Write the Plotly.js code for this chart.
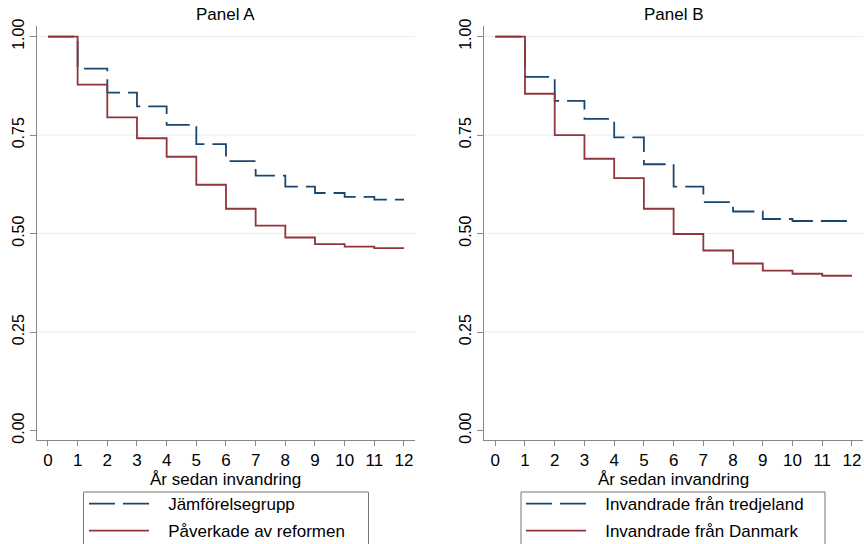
<!DOCTYPE html>
<html>
<head>
<meta charset="utf-8">
<script src="https://cdn.plot.ly/plotly-3.0.1.min.js"></script>
<style>html,body{margin:0;padding:0;background:#fff;}#chart{width:864px;height:544px;}</style>
</head>
<body>
<div id="chart"></div>
<script>
// Data
const years = [0,1,2,3,4,5,6,7,8,9,10,11,12];
const panelA_jamfor = [1.000,0.919,0.858,0.823,0.776,0.727,0.684,0.647,0.619,0.603,0.593,0.586,0.586];
const panelA_paverkade = [1.000,0.878,0.795,0.742,0.695,0.624,0.563,0.520,0.490,0.473,0.467,0.463,0.463];
const panelB_tredje = [1.000,0.898,0.837,0.791,0.744,0.676,0.619,0.580,0.556,0.537,0.532,0.532,0.532];
const panelB_danmark = [1.000,0.855,0.750,0.690,0.641,0.563,0.499,0.457,0.424,0.406,0.398,0.393,0.393];
const yTicks = [0,0.25,0.5,0.75,1];
const yTickText = ['0.00','0.25','0.50','0.75','1.00'];
const gridVals = [0.25,0.5,0.75,1];
const namesA = ['Jämförelsegrupp','Påverkade av reformen'];
const namesB = ['Invandrade från tredjeland','Invandrade från Danmark'];
const titles = ['Panel A','Panel B'];
const xTitle = 'År sedan invandring';

const BLUE = '#1a476f', RED = '#90353b';
const FONT = 'Arial, Liberation Sans, sans-serif';
const DASH = '26px,8px';
const LEAD = '\u00a0\u00a0\u00a0';

const traces = [
  {x: years, y: panelA_jamfor, name: LEAD + namesA[0], xaxis:'x', yaxis:'y', legend:'legend', legendgroup:'a1',
   mode:'lines', line:{shape:'hv', color:BLUE, width:1.8, dash:DASH}},
  {x: years, y: panelA_paverkade, name: LEAD + namesA[1], xaxis:'x', yaxis:'y', legend:'legend', legendgroup:'a2',
   mode:'lines', line:{shape:'hv', color:RED, width:1.8}},
  {x: years, y: panelB_tredje, name: LEAD + namesB[0], xaxis:'x2', yaxis:'y2', legend:'legend2', legendgroup:'b1',
   mode:'lines', line:{shape:'hv', color:BLUE, width:1.8, dash:DASH}},
  {x: years, y: panelB_danmark, name: LEAD + namesB[1], xaxis:'x2', yaxis:'y2', legend:'legend2', legendgroup:'b2',
   mode:'lines', line:{shape:'hv', color:RED, width:1.8}}
];

function xax(domain) {
  return {domain: domain, range:[-0.37,12.37], tickvals: years, ticks:'outside', ticklen:5, tickcolor:'#888',
    showline:true, linecolor:'#888', linewidth:1, showgrid:false, zeroline:false, automargin:false,
    tickfont:{family:FONT, size:17, color:'#000'}};
}
function yax(anchor) {
  return {domain:[0.1912,0.9522], range:[-0.024,1.027], tickvals:yTicks, ticktext:yTickText, tickangle:-90,
    ticks:'outside', ticklen:6, tickcolor:'#888', showline:true, linecolor:'#888', linewidth:1,
    showgrid:false, zeroline:false, anchor:anchor, fixedrange:true, automargin:false,
    tickfont:{family:FONT, size:16, color:'#000'}};
}

const shapes = [];
gridVals.forEach(v => {
  shapes.push({type:'line', xref:'x domain', yref:'y', x0:0, x1:1, y0:v, y1:v, line:{color:'#e6eef3', width:1}, layer:'below'});
  shapes.push({type:'line', xref:'x2 domain', yref:'y2', x0:0, x1:1, y0:v, y1:v, line:{color:'#e6eef3', width:1}, layer:'below'});
});
// legend frames
shapes.push({type:'rect', xref:'paper', yref:'paper', x0:83.5/864, x1:368.5/864, y0:-0.05, y1:1-492/544,
  line:{color:'#777', width:1}, fillcolor:'rgba(0,0,0,0)'});
shapes.push({type:'rect', xref:'paper', yref:'paper', x0:521/864, x1:825/864, y0:-0.05, y1:1-492/544,
  line:{color:'#777', width:1}, fillcolor:'rgba(0,0,0,0)'});

function leg(x) {
  return {x:x, xanchor:'left', xref:'container', y:1-486/544, yanchor:'top', yref:'container',
    borderwidth:0, bgcolor:'rgba(0,0,0,0)', font:{family:FONT, size:17, color:'#000'}, itemwidth:60,
    traceorder:'grouped', tracegroupgap:2, itemclick:false};
}

function ann(text, xref, yPx) {
  return {text:text, xref:xref, yref:'paper', x:0.5, y:1-yPx/544, yanchor:'middle', showarrow:false,
    font:{family:FONT, size:17, color:'#000'}};
}

const layout = {
  width:864, height:544, margin:{l:0,r:0,t:0,b:0,autoexpand:false}, paper_bgcolor:'#fff', plot_bgcolor:'#fff',
  xaxis: Object.assign(xax([0.0428,0.4803]), {anchor:'y'}),
  yaxis: yax('x'),
  xaxis2: Object.assign(xax([0.5605,0.9988]), {anchor:'y2'}),
  yaxis2: yax('x2'),
  shapes: shapes,
  legend: leg(84/864),
  legend2: leg(521/864),
  annotations: [
    ann(titles[0], 'x domain', 14),
    ann(titles[1], 'x2 domain', 14),
    ann(xTitle, 'x domain', 479),
    ann(xTitle, 'x2 domain', 479)
  ],
  showlegend:true
};

Plotly.newPlot('chart', traces, layout, {staticPlot:true, displayModeBar:false});
</script>
</body>
</html>
